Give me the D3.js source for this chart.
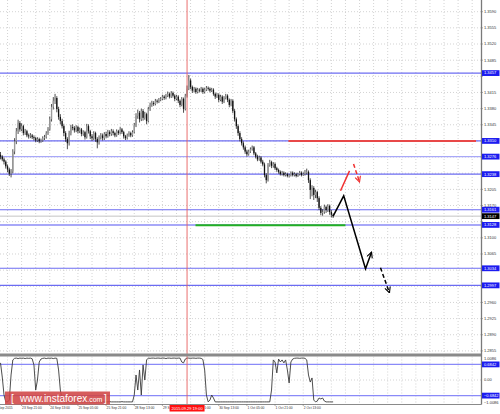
<!DOCTYPE html>
<html>
<head>
<meta charset="utf-8">
<script src="https://cdn.jsdelivr.net/npm/d3@7"></script>
<style>
  body { margin: 0; background: #fff; }
  svg { display: block; font-family: "Liberation Sans", Arial, sans-serif; }
</style>
</head>
<body>
<div id="chart"></div>
<script>
// USDCAD H1 - bar data
const firstOpen = 1.3280;
const closes = [
  1.3276,1.3270,1.3265,1.3255,1.3248,1.3239,1.3244,1.3287,1.3309,1.3331,
  1.3349,1.3335,1.3342,1.3327,1.3331,1.3322,1.3320,1.3322,1.3318,1.3316,
  1.3311,1.3314,1.3309,1.3311,1.3316,1.3318,1.3327,1.3335,1.3357,1.3384,
  1.3397,1.3403,1.3379,1.3362,1.3353,1.3342,1.3327,1.3314,1.3305,1.3327,
  1.3340,1.3338,1.3333,1.3340,1.3331,1.3335,1.3325,1.3329,1.3318,1.3342,
  1.3331,1.3320,1.3316,1.3327,1.3314,1.3307,1.3318,1.3322,1.3316,1.3325,
  1.3320,1.3329,1.3325,1.3331,1.3327,1.3322,1.3331,1.3327,1.3335,1.3329,
  1.3320,1.3316,1.3322,1.3327,1.3322,1.3329,1.3344,1.3364,1.3371,1.3357,
  1.3375,1.3360,1.3368,1.3353,1.3379,1.3388,1.3392,1.3390,1.3397,1.3395,
  1.3399,1.3401,1.3406,1.3403,1.3408,1.3412,1.3406,1.3414,1.3408,1.3401,
  1.3406,1.3397,1.3388,1.3401,1.3379,1.3408,1.3423,1.3441,1.3427,1.3419,
  1.3423,1.3416,1.3421,1.3419,1.3423,1.3416,1.3421,1.3425,1.3423,1.3419,
  1.3421,1.3412,1.3406,1.3410,1.3399,1.3406,1.3395,1.3403,1.3408,1.3399,
  1.3388,1.3397,1.3375,1.3357,1.3342,1.3327,1.3314,1.3305,1.3296,1.3287,
  1.3281,1.3287,1.3292,1.3296,1.3283,1.3276,1.3270,1.3274,1.3265,1.3259,
  1.3236,1.3225,1.3258,1.3264,1.3256,1.3260,1.3251,1.3247,1.3243,1.3238,
  1.3241,1.3236,1.3238,1.3234,1.3236,1.3241,1.3236,1.3238,1.3234,1.3238,
  1.3241,1.3236,1.3238,1.3241,1.3243,1.3225,1.3204,1.3208,1.3193,1.3199,
  1.3186,1.3165,1.3154,1.3156,1.3167,1.3160,1.3169,1.3156,1.3150,1.3147
];
const highs = [
  1.3286,1.3279,1.3274,1.3268,1.3259,1.3252,1.3249,1.3292,1.3316,1.3338,
  1.3356,1.3353,1.3348,1.3345,1.3336,1.3334,1.3326,1.3327,1.3325,1.3322,
  1.3319,1.3318,1.3317,1.3315,1.3320,1.3323,1.3331,1.3340,1.3363,1.3390,
  1.3405,1.3412,1.3407,1.3384,1.3368,1.3358,1.3346,1.3331,1.3318,1.3332,
  1.3345,1.3346,1.3342,1.3344,1.3343,1.3339,1.3338,1.3333,1.3332,1.3347,
  1.3346,1.3334,1.3325,1.3331,1.3330,1.3318,1.3322,1.3327,1.3326,1.3329,
  1.3330,1.3334,1.3333,1.3336,1.3335,1.3330,1.3335,1.3334,1.3340,1.3338,
  1.3332,1.3323,1.3326,1.3331,1.3330,1.3333,1.3349,1.3370,1.3378,1.3375,
  1.3380,1.3379,1.3373,1.3371,1.3384,1.3393,1.3397,1.3396,1.3401,1.3400,
  1.3403,1.3405,1.3410,1.3409,1.3412,1.3417,1.3415,1.3418,1.3417,1.3411,
  1.3410,1.3409,1.3400,1.3405,1.3404,1.3412,1.3430,1.3453,1.3445,1.3430,
  1.3427,1.3426,1.3425,1.3424,1.3427,1.3426,1.3425,1.3429,1.3428,1.3426,
  1.3425,1.3424,1.3415,1.3414,1.3413,1.3410,1.3409,1.3407,1.3412,1.3411,
  1.3402,1.3401,1.3400,1.3379,1.3361,1.3346,1.3331,1.3318,1.3309,1.3300,
  1.3291,1.3291,1.3296,1.3300,1.3299,1.3286,1.3280,1.3278,1.3277,1.3269,
  1.3263,1.3240,1.3262,1.3269,1.3267,1.3264,1.3263,1.3254,1.3250,1.3246,
  1.3245,1.3244,1.3242,1.3241,1.3239,1.3244,1.3244,1.3242,1.3241,1.3241,
  1.3245,1.3244,1.3242,1.3247,1.3250,1.3246,1.3229,1.3214,1.3212,1.3204,
  1.3202,1.3190,1.3169,1.3162,1.3172,1.3170,1.3173,1.3172,1.3160,1.3153
];
const lows = [
  1.3270,1.3266,1.3259,1.3250,1.3242,1.3234,1.3231,1.3240,1.3281,1.3303,
  1.3325,1.3330,1.3331,1.3322,1.3323,1.3318,1.3315,1.3316,1.3314,1.3311,
  1.3307,1.3308,1.3305,1.3306,1.3308,1.3312,1.3315,1.3323,1.3332,1.3352,
  1.3378,1.3390,1.3372,1.3356,1.3346,1.3337,1.3320,1.3308,1.3292,1.3300,
  1.3322,1.3333,1.3328,1.3329,1.3326,1.3327,1.3320,1.3321,1.3313,1.3315,
  1.3326,1.3314,1.3310,1.3312,1.3308,1.3294,1.3302,1.3313,1.3311,1.3312,
  1.3316,1.3317,1.3320,1.3321,1.3322,1.3318,1.3319,1.3323,1.3324,1.3325,
  1.3315,1.3312,1.3313,1.3319,1.3318,1.3319,1.3326,1.3340,1.3358,1.3350,
  1.3353,1.3354,1.3356,1.3346,1.3350,1.3375,1.3384,1.3386,1.3387,1.3391,
  1.3392,1.3396,1.3398,1.3399,1.3400,1.3405,1.3402,1.3403,1.3404,1.3396,
  1.3398,1.3392,1.3383,1.3385,1.3371,1.3376,1.3404,1.3420,1.3422,1.3414,
  1.3415,1.3412,1.3413,1.3415,1.3416,1.3412,1.3413,1.3418,1.3419,1.3415,
  1.3416,1.3408,1.3401,1.3403,1.3394,1.3396,1.3390,1.3392,1.3400,1.3394,
  1.3383,1.3385,1.3370,1.3352,1.3336,1.3321,1.3309,1.3300,1.3291,1.3282,
  1.3276,1.3278,1.3284,1.3289,1.3279,1.3272,1.3266,1.3267,1.3261,1.3255,
  1.3231,1.3218,1.3222,1.3254,1.3251,1.3252,1.3247,1.3243,1.3239,1.3235,
  1.3235,1.3233,1.3233,1.3231,1.3231,1.3233,1.3233,1.3233,1.3231,1.3232,
  1.3235,1.3233,1.3234,1.3235,1.3237,1.3219,1.3184,1.3190,1.3182,1.3186,
  1.3178,1.3160,1.3149,1.3148,1.3152,1.3154,1.3156,1.3150,1.3144,1.3143
];
// lower window oscillator
const oscValues = [
  0.75,0.13,-0.66,-0.96,-0.96,-0.88,0.22,0.88,0.95,0.96,
  0.94,0.96,0.95,0.96,0.94,0.96,0.95,0.96,0.93,0.66,
  -0.44,0.00,0.79,0.92,0.95,0.96,0.94,0.96,0.95,0.96,
  0.94,0.96,0.95,0.44,-0.44,-0.88,-0.96,-0.96,-0.95,-0.96,
  -0.96,-0.95,-0.96,-0.96,-0.96,-0.95,-0.96,-0.96,-0.96,-0.96,
  -0.95,-0.96,-0.96,-0.96,-0.96,-0.96,-0.95,-0.96,-0.96,-0.96,
  -0.96,-0.96,-0.95,-0.96,-0.96,-0.96,-0.96,-0.96,-0.96,-0.95,
  -0.96,-0.96,-0.96,-0.96,-0.96,-0.96,-0.66,0.22,-0.44,0.44,
  -0.66,0.66,0.00,0.88,0.96,0.95,0.96,0.96,0.95,0.96,
  0.96,0.95,0.96,0.96,0.94,0.96,0.96,0.95,0.96,0.96,
  0.95,0.96,0.96,0.79,0.75,0.92,0.96,0.96,0.95,0.96,
  0.96,0.95,0.96,0.96,0.95,0.90,0.44,-0.66,-0.96,-0.88,
  -0.66,-0.79,-0.96,-0.96,-0.96,-0.96,-0.96,-0.96,-0.96,-0.96,
  -0.96,-0.96,-0.96,-0.96,-0.96,-0.96,-0.96,-0.96,-0.96,-0.96,
  -0.96,-0.96,-0.96,-0.96,-0.96,-0.96,-0.96,-0.96,-0.96,-0.96,
  -0.96,-0.96,-0.96,-0.96,-0.44,0.88,0.79,0.31,0.92,0.79,
  0.88,0.75,0.88,0.44,-0.13,0.79,0.92,0.95,0.96,0.96,
  0.95,0.96,0.96,0.95,0.88,0.22,-0.09,0.09,-0.88,-0.96,
  -0.92,-0.79,-0.83,-0.79,-0.92,-0.96,-0.96,-0.96,-0.96,-0.96
];

const priceTicks = [1.3590,1.3555,1.3520,1.3485,1.3450,1.3415,1.3380,1.3345,1.3310,1.3275,1.3240,
  1.3205,1.3170,1.3135,1.3100,1.3065,1.3030,1.2995,1.2960,1.2925,1.2890,1.2855];
const timeTickBars = [-4,12,28,44,60,76,92,108,124,140,156,172];
const timeTickLabels = ["23 Sep 2015","23 Sep 21:00","24 Sep 13:00","25 Sep 05:00","25 Sep 21:00",
  "28 Sep 13:00","29 Sep 05:00","29 Sep 21:00","30 Sep 13:00","1 Oct 05:00","1 Oct 21:00","2 Oct 13:00"];

// horizontal levels
const blueLevels = [1.3457,1.3310,1.3276,1.3238,1.3161,1.3128,1.3034,1.2997];
const lastPrice = 1.3147;
const redLevel = 1.3310, redLevelBars = [163.6, 270.2];
const greenLevel = 1.3127, greenLevelBars = [110.8, 196];
const oscLevels = [0.6842, -0.6842];
const oscTicks = [1.0086, 0.00, -1.0086];

// forecast arrows [bar, price]
const forecastMain = [[189,1.3147],[195,1.3191],[207.4,1.3033],[210.8,1.3069]];
const forecastNext = [[215.9,1.3035],[221,1.2981]];
const redUp = [[193.2,1.3202],[198.3,1.3245]];
const redDown = [[200.6,1.3260],[204,1.3221]];

const crossBar = 106, crossLabel = "2015.09.29 19:00";

// ---------------------------------------------------------------
const W = 500, H = 414, plotRight = 481;
const mainBottom = 353.5, oscTop = 356.5, oscBottom = 404;

const x = d3.scaleLinear().domain([0, 100]).range([0.5, 176.5]);
const y = d3.scaleLinear().domain([1.2855, 1.3590]).range([350.9, 11.7]);
const yo = d3.scaleLinear().domain([-1.0086, 1.0086]).range([403, 357]);

const svg = d3.select("#chart").append("svg")
  .attr("width", W).attr("height", H);

svg.append("rect").attr("width", W).attr("height", H).attr("fill", "#fff");

const defs = svg.append("defs");
defs.append("clipPath").attr("id", "clipMain")
  .append("rect").attr("x", 0).attr("y", 0).attr("width", plotRight).attr("height", mainBottom);
defs.append("clipPath").attr("id", "clipOsc")
  .append("rect").attr("x", 0).attr("y", oscTop).attr("width", plotRight).attr("height", oscBottom - oscTop);

const boxL = x(crossBar) - 17.5, boxR = x(crossBar) + 17.5;
const clipTime = defs.append("clipPath").attr("id", "clipTime");
clipTime.append("rect").attr("x", 0).attr("y", 404).attr("width", boxL).attr("height", 10);
clipTime.append("rect").attr("x", boxR).attr("y", 404).attr("width", W - boxR).attr("height", 10);

function arrow(id, color) {
  defs.append("marker").attr("id", id)
    .attr("viewBox", "0 0 10 10").attr("refX", 9).attr("refY", 5)
    .attr("markerWidth", 7).attr("markerHeight", 7)
    .attr("markerUnits", "userSpaceOnUse").attr("orient", "auto")
    .append("path").attr("d", "M1,1 L9,5 L1,9")
    .attr("fill", "none").attr("stroke", color).attr("stroke-width", 1.6);
}
arrow("arrBlack", "#000");
arrow("arrRed", "#f03030");

const main = svg.append("g").attr("clip-path", "url(#clipMain)");
const osc = svg.append("g").attr("clip-path", "url(#clipOsc)");

// grid
const gridBars = d3.range(4, 273, 8);
[main, osc].forEach((g, k) => {
  g.selectAll("line.vg").data(gridBars).enter().append("line")
    .attr("class", "vg")
    .attr("x1", d => x(d)).attr("x2", d => x(d))
    .attr("y1", k ? oscTop : 0).attr("y2", k ? oscBottom : mainBottom)
    .attr("stroke", "#c8c8c8").attr("stroke-width", 0.8).attr("stroke-dasharray", "1,2");
});
main.selectAll("line.hg").data(priceTicks).enter().append("line")
  .attr("x1", 0).attr("x2", plotRight)
  .attr("y1", d => y(d)).attr("y2", d => y(d))
  .attr("stroke", "#c8c8c8").attr("stroke-width", 0.8).attr("stroke-dasharray", "1,2");
osc.append("line").attr("x1", 0).attr("x2", plotRight)
  .attr("y1", yo(0)).attr("y2", yo(0))
  .attr("stroke", "#c8c8c8").attr("stroke-width", 0.8).attr("stroke-dasharray", "1,2");

// level lines
const levelColor = v => (v === 1.3276 || v === 1.3128) ? "#a8a8f8" : "#6c6cf2";
main.selectAll("line.lvl").data(blueLevels).enter().append("line")
  .attr("x1", 0).attr("x2", plotRight)
  .attr("y1", d => y(d)).attr("y2", d => y(d))
  .attr("stroke", levelColor)
  .attr("stroke-width", d => d === 1.3128 ? 2 : 1.1);

main.append("line").attr("x1", 0).attr("x2", plotRight)
  .attr("y1", y(lastPrice)).attr("y2", y(lastPrice))
  .attr("stroke", "#c4c4c4").attr("stroke-width", 1);

main.append("line")
  .attr("x1", x(redLevelBars[0])).attr("x2", x(redLevelBars[1]))
  .attr("y1", y(redLevel)).attr("y2", y(redLevel))
  .attr("stroke", "#e84848").attr("stroke-width", 2);
main.append("line")
  .attr("x1", x(greenLevelBars[0])).attr("x2", x(greenLevelBars[1]))
  .attr("y1", y(greenLevel)).attr("y2", y(greenLevel))
  .attr("stroke", "#22b022").attr("stroke-width", 2);

// candles
const bars = closes.map((c, i) => ({
  i, o: i ? closes[i - 1] : firstOpen, c, h: highs[i], l: lows[i]
}));
main.selectAll("line.wick").data(bars).enter().append("line")
  .attr("x1", d => x(d.i)).attr("x2", d => x(d.i))
  .attr("y1", d => y(d.h)).attr("y2", d => y(d.l))
  .attr("stroke", "#222").attr("stroke-width", 0.8);
main.selectAll("rect.body").data(bars).enter().append("rect")
  .attr("x", d => x(d.i) - 0.65).attr("width", 1.3)
  .attr("y", d => y(Math.max(d.o, d.c)))
  .attr("height", d => Math.max(0.6, Math.abs(y(d.o) - y(d.c))))
  .attr("fill", d => d.c >= d.o ? "#9a9a9a" : "#111");

// forecast arrows
const pl = d3.line().x(d => x(d[0])).y(d => y(d[1]));
main.append("path").attr("d", pl(forecastMain))
  .attr("fill", "none").attr("stroke", "#000").attr("stroke-width", 1.5)
  .attr("marker-end", "url(#arrBlack)");
main.append("path").attr("d", pl(forecastNext))
  .attr("fill", "none").attr("stroke", "#000").attr("stroke-width", 1.5)
  .attr("stroke-dasharray", "4,2.5").attr("marker-end", "url(#arrBlack)");
main.append("path").attr("d", pl(redUp))
  .attr("fill", "none").attr("stroke", "#f03030").attr("stroke-width", 1.5);
main.append("path").attr("d", pl(redDown))
  .attr("fill", "none").attr("stroke", "#f03030").attr("stroke-width", 1.5)
  .attr("stroke-dasharray", "4,2.5").attr("marker-end", "url(#arrRed)");

// oscillator window
osc.selectAll("line.olvl").data(oscLevels).enter().append("line")
  .attr("x1", 0).attr("x2", plotRight)
  .attr("y1", d => yo(d)).attr("y2", d => yo(d))
  .attr("stroke", "#8a8af8").attr("stroke-width", 1.1);
osc.append("path")
  .attr("d", d3.line().x((d, i) => x(i)).y(d => yo(d))(oscValues))
  .attr("fill", "none").attr("stroke", "#3a3a3a").attr("stroke-width", 0.9);

// crosshair
svg.append("line").attr("x1", x(crossBar)).attr("x2", x(crossBar))
  .attr("y1", 0).attr("y2", oscBottom)
  .attr("stroke", "#e86060").attr("stroke-width", 0.9);

// frames
svg.append("rect").attr("x", 0).attr("y", mainBottom).attr("width", plotRight)
  .attr("height", oscTop - mainBottom).attr("fill", "#8a8a8a");
svg.append("line").attr("x1", 0).attr("x2", plotRight + 0.5)
  .attr("y1", oscBottom + 0.5).attr("y2", oscBottom + 0.5)
  .attr("stroke", "#8a8a8a").attr("stroke-width", 1);
svg.append("line").attr("x1", plotRight + 0.5).attr("x2", plotRight + 0.5)
  .attr("y1", 0).attr("y2", oscBottom + 0.5)
  .attr("stroke", "#7a7a7a").attr("stroke-width", 1.3);

// price axis (ticks hidden where a level tag sits on top)
const fmt = d3.format(".4f");
const tagYs = blueLevels.concat([lastPrice]).map(v => y(v));
const visibleTicks = priceTicks.filter(v => tagYs.every(t => Math.abs(t - y(v)) > 3.5));
const axisG = svg.append("g").attr("font-size", 4).attr("fill", "#333");
axisG.selectAll("text.pt").data(visibleTicks).enter().append("text")
  .attr("x", 484).attr("y", d => y(d)).attr("dy", "0.35em").text(fmt);
axisG.selectAll("line.pt").data(priceTicks).enter().append("line")
  .attr("x1", plotRight).attr("x2", plotRight + 2)
  .attr("y1", d => y(d)).attr("y2", d => y(d)).attr("stroke", "#777").attr("stroke-width", 0.6);

function tag(v, yy, bg) {
  const g = svg.append("g");
  g.append("rect").attr("x", 482).attr("y", yy - 2.9).attr("width", 17.5).attr("height", 5.8)
    .attr("fill", bg);
  g.append("text").attr("x", 484).attr("y", yy).attr("dy", "0.35em")
    .attr("font-size", 4).attr("fill", "#fff").text(v);
}
blueLevels.forEach(v => tag(fmt(v), y(v), "#1c1cf0"));
tag(fmt(lastPrice), y(lastPrice), "#000");

// oscillator axis
oscTicks.forEach(v => {
  const yy = Math.max(358.5, Math.min(402.3, yo(v)));
  svg.append("text").attr("x", 484).attr("y", yy).attr("dy", "0.35em")
    .attr("font-size", 4).attr("fill", "#333").text(v === 0 ? "0.00" : fmt(v));
});
oscLevels.forEach(v => tag(fmt(v), yo(v), "#1c1cf0"));

// time axis
const tg = svg.append("g").attr("font-size", 3.3).attr("fill", "#333");
timeTickBars.forEach((b, k) => {
  tg.append("line").attr("x1", x(b)).attr("x2", x(b))
    .attr("y1", oscBottom).attr("y2", oscBottom + 2)
    .attr("stroke", "#777").attr("stroke-width", 0.6);
});
tg.append("g").attr("clip-path", "url(#clipTime)")
  .selectAll("text").data(timeTickBars).enter().append("text")
  .attr("x", d => x(d) + 0.5).attr("y", 409)
  .text((d, k) => timeTickLabels[k]);
svg.append("rect").attr("x", boxL).attr("y", 405).attr("width", boxR - boxL).attr("height", 6.5)
  .attr("fill", "#ff1010");
svg.append("text").attr("x", x(crossBar)).attr("y", 408.4).attr("dy", "0.35em")
  .attr("text-anchor", "middle").attr("font-size", 4).attr("fill", "#fff").text(crossLabel);

// watermark
const wm = svg.append("g");
wm.append("rect").attr("x", 5).attr("y", 391.5).attr("width", 105).attr("height", 13)
  .attr("fill", "#d04545").attr("opacity", 0.88);
wm.append("text").attr("x", 11).attr("y", 401.8).attr("font-size", 10).attr("fill", "#fff").text("[");
wm.append("text").attr("x", 104).attr("y", 401.8).attr("font-size", 10).attr("fill", "#fff").text("]");
const wt = wm.append("text").attr("x", 20).attr("y", 401.8).attr("font-size", 10).attr("fill", "#fff");
wt.append("tspan").text("www.instaforex");
wt.append("tspan").attr("font-size", 7).text(".com");
</script>
</body>
</html>
